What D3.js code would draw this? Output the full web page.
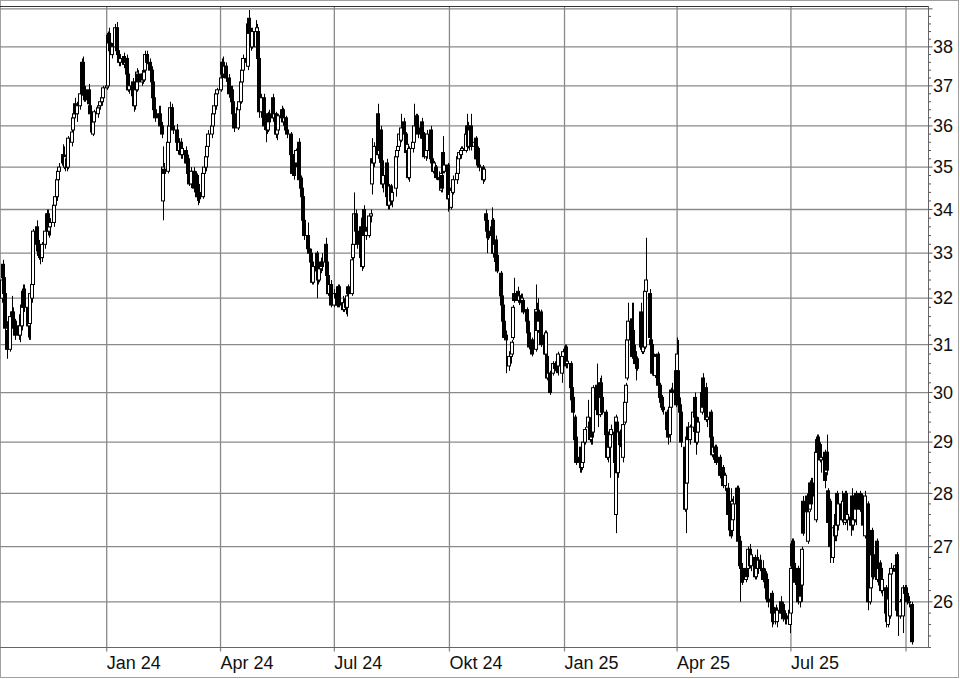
<!DOCTYPE html>
<html>
<head>
<meta charset="utf-8">
<script src="https://cdn.jsdelivr.net/npm/d3@7"></script>
<style>
  html, body { margin: 0; padding: 0; background: #fff; }
  svg { display: block; }
</style>
</head>
<body>
<svg id="chart"></svg>
<script>
// daily candles, one row per weekday from firstDay to lastDay: [open, high, low, close]
const firstDay = "2023-10-09";
const lastDay = "2025-10-06";

const ohlc = [
  // Oct 2023
  [32.0,32.45,31.9,32.4],[32.75,32.85,32.4,32.45],[32.45,32.5,32.0,32.1],[32.1,32.2,31.3,31.35],[31.3,31.5,30.7,30.9],
  [30.9,31.7,30.85,31.6],[31.6,32.05,31.4,31.7],[31.7,31.8,31.3,31.35],[31.4,31.6,31.2,31.5],[31.5,31.55,31.1,31.2],
  [31.4,31.65,31.1,31.2],[31.2,31.5,31.05,31.4],[31.4,31.9,31.3,31.85],[31.8,32.3,31.7,32.15],[32.2,32.3,31.7,31.8],
  [31.8,31.9,31.15,31.4],[31.4,31.6,31.1,31.5],[31.45,32.2,31.1,32.1],[32.0,32.4,31.9,32.3],[32.3,33.55,32.25,33.5],
  // Nov 2023
  [33.6,33.75,33.1,33.2],[33.2,33.4,32.95,33.05],[33.1,33.3,32.85,32.95],[32.95,33.1,32.75,32.9],[32.9,33.25,32.8,33.2],
  [33.2,33.6,33.1,33.5],[33.6,34.0,33.5,33.9],[33.9,34.0,33.4,33.5],[33.5,33.7,33.35,33.6],[33.6,33.8,33.4,33.7],
  [33.7,34.2,33.6,34.1],[34.1,34.4,34.0,34.3],[34.3,34.75,34.2,34.7],[34.7,35.0,34.6,34.9],[34.9,35.1,34.7,35.0],
  [35.3,35.55,35.0,35.1],[35.2,35.5,34.95,35.05],[35.0,35.3,34.9,35.25],[35.2,35.3,34.9,35.0],[35.0,35.75,34.95,35.7],
  // Dec 2023
  [35.6,35.9,35.5,35.85],[35.9,36.3,35.8,36.2],[36.2,36.4,36.0,36.3],[36.55,36.7,36.2,36.3],[36.3,36.6,36.1,36.5],
  [36.5,36.9,36.4,36.8],[36.8,37.7,36.75,37.6],[37.6,37.75,36.7,36.8],[36.8,37.1,36.6,36.9],[36.9,37.0,36.6,36.65],
  [36.9,37.05,36.5,36.55],[36.5,36.6,36.2,36.3],[36.3,36.35,35.8,35.85],[35.8,36.2,35.75,36.1],[36.1,36.4,36.0,36.35],
  [36.3,36.5,36.2,36.45],[36.45,36.6,36.3,36.5],[36.5,36.7,36.4,36.6],[36.6,36.8,36.5,36.7],[36.7,37.0,36.6,36.95],
  // Jan 2024
  [36.95,37.1,36.9,37.0],[37.0,38.4,36.95,38.3],[38.35,38.5,38.0,38.1],[38.1,38.3,37.8,37.9],[37.8,38.1,37.7,38.0],
  [38.0,38.6,37.95,38.5],[38.5,38.65,37.85,37.9],[37.9,38.1,37.7,37.8],[37.8,37.9,37.5,37.6],[37.6,37.8,37.5,37.7],
  [37.75,37.85,37.45,37.55],[37.55,37.7,37.4,37.6],[37.7,37.8,37.2,37.3],[37.3,37.4,36.85,36.9],[36.9,37.1,36.8,37.0],
  [37.1,37.2,36.7,36.75],[36.75,36.8,36.35,36.5],[36.5,37.0,36.4,36.9],[36.9,37.45,36.85,37.35],[37.3,37.4,37.0,37.1],
  [37.1,37.4,37.0,37.3],[37.3,37.4,37.05,37.15],[37.15,37.4,37.1,37.35],[37.4,37.9,37.3,37.8],[37.8,37.9,37.55,37.6],
  // Feb 2024
  [37.6,37.7,37.3,37.4],[37.4,37.5,37.0,37.1],[37.1,37.2,36.6,36.7],[36.7,36.8,36.35,36.4],[36.4,36.5,36.1,36.2],
  [36.2,36.5,36.0,36.3],[36.3,36.5,35.9,36.0],[36.0,36.1,35.7,35.8],[34.2,35.5,33.75,35.0],[34.95,35.1,34.75,34.85],
  [34.9,35.65,34.85,35.6],[35.6,36.1,35.5,36.0],[36.0,36.6,35.9,36.45],[36.45,36.55,35.9,36.0],[36.0,36.3,35.8,35.9],
  [35.9,36.05,35.5,35.6],[35.6,35.8,35.3,35.4],[35.4,35.7,35.3,35.6],[35.6,35.7,35.2,35.3],[35.3,35.5,35.2,35.45],
  // Mar 2024
  [35.4,35.5,35.0,35.1],[35.1,35.3,34.9,35.2],[35.2,35.3,34.8,34.85],[34.9,35.0,34.55,34.6],[34.6,35.0,34.5,34.9],
  [34.9,35.0,34.4,34.5],[34.5,34.9,34.4,34.8],[34.8,34.85,34.2,34.3],[34.3,34.5,34.1,34.4],[34.4,34.6,34.15,34.25],
  [34.3,34.9,34.25,34.85],[34.85,35.1,34.7,35.0],[35.0,35.3,34.9,35.25],[35.25,35.6,35.2,35.5],[35.5,35.9,35.4,35.8],
  [35.8,36.1,35.7,36.0],[36.0,36.35,35.95,36.3],[36.3,36.6,36.2,36.5],[36.5,36.9,36.4,36.8],[36.8,36.95,36.7,36.9],
  // Apr 2024
  [36.9,37.3,36.85,37.2],[37.3,37.7,37.2,37.6],[37.6,37.75,37.2,37.3],[37.3,37.6,37.2,37.5],[37.5,37.6,37.1,37.2],
  [37.2,37.3,36.7,36.8],[36.8,37.0,36.6,36.9],[36.9,37.0,36.55,36.6],[36.6,36.7,36.2,36.3],[36.3,36.4,35.85,35.95],
  [35.95,36.5,35.9,36.45],[36.4,36.7,36.3,36.6],[36.6,37.2,36.55,37.1],[37.1,37.5,37.0,37.4],[37.4,37.8,37.3,37.7],
  [37.7,38.2,37.5,37.6],[37.5,38.65,37.4,38.6],[38.75,38.97,38.3,38.35],[38.3,38.5,37.9,38.0],[38.0,38.5,37.95,38.4],
  [38.0,38.7,37.9,38.4],[38.4,38.6,38.2,38.5],[38.4,38.5,37.65,37.7],[37.7,37.75,36.2,36.35],[36.35,36.8,36.2,36.7],
  // May 2024
  [36.7,36.8,35.9,36.0],[36.0,36.2,35.6,36.1],[36.1,36.3,35.8,35.9],[35.9,36.35,35.85,36.3],[36.3,36.4,36.0,36.1],
  [36.7,36.8,36.1,36.2],[36.2,36.4,36.0,36.3],[36.3,36.35,35.7,35.8],[35.8,36.1,35.65,35.95],[35.9,36.3,35.8,36.25],
  [36.2,36.5,36.1,36.4],[36.4,36.45,36.0,36.1],[36.1,36.3,35.9,36.2],[36.2,36.25,35.8,35.9],[35.9,36.0,35.7,35.8],
  [35.8,35.85,35.2,35.3],[35.3,35.4,34.8,34.85],[34.9,35.3,34.8,35.2],[35.2,35.35,34.7,34.8],[35.1,35.45,35.0,35.4],
  // Jun 2024
  [35.6,35.7,34.65,34.7],[34.7,34.8,34.4,34.5],[34.5,34.75,34.2,34.3],[34.3,34.4,33.7,33.75],[33.75,33.85,33.3,33.4],
  [33.4,33.7,33.0,33.1],[33.1,33.3,32.9,33.0],[33.0,33.1,32.7,32.8],[32.8,32.85,32.3,32.35],[32.35,32.8,32.3,32.7],
  [33.0,33.05,32.0,32.6],[32.6,32.7,32.3,32.4],[32.4,32.7,32.35,32.65],[32.65,32.9,32.55,32.8],[32.8,33.0,32.6,32.7],
  [33.2,33.35,32.75,32.8],[32.8,32.9,32.4,32.5],[32.5,32.55,32.05,32.1],[32.1,32.4,32.0,32.3],[32.3,32.4,31.8,31.85],
  // Jul 2024
  [31.85,32.2,31.8,32.1],[32.1,32.15,31.9,32.0],[32.0,32.1,31.8,31.85],[31.85,32.3,31.8,32.25],[32.25,32.3,31.8,31.85],
  [31.9,32.05,31.7,31.75],[31.75,32.0,31.7,31.9],[31.9,32.0,31.65,31.8],[31.8,32.1,31.6,32.05],[32.25,32.3,32.0,32.1],
  [32.1,32.9,32.05,32.85],[32.9,33.3,32.8,33.2],[33.2,34.4,33.1,33.9],[33.9,34.0,33.4,33.5],[33.5,33.7,33.1,33.2],
  [33.6,33.7,32.85,32.9],[33.1,33.2,32.6,32.7],[32.7,33.9,32.65,33.8],[34.0,34.1,33.3,33.4],[33.4,33.6,33.3,33.5],
  [33.4,33.9,33.35,33.85],[33.85,34.0,33.7,33.9],[34.6,35.7,34.35,35.2],[35.2,35.4,34.9,35.1],[35.1,35.6,35.0,35.5],
  // Aug 2024
  [36.3,36.55,35.2,35.3],[35.3,35.5,35.1,35.4],[35.9,36.0,35.1,35.15],[35.15,35.3,34.5,34.6],[34.6,34.9,34.4,34.8],
  [35.1,35.2,34.2,34.3],[34.3,34.4,34.0,34.1],[34.1,34.6,34.0,34.55],[34.55,34.6,34.1,34.2],[34.2,34.5,34.05,34.4],
  [34.5,35.3,34.3,35.25],[35.25,35.5,35.15,35.4],[35.4,35.6,35.3,35.5],[35.5,35.9,35.4,35.8],[35.65,36.3,35.6,35.95],
  [36.1,36.2,35.75,35.8],[35.8,35.85,35.3,35.35],[35.4,35.6,35.3,35.55],[35.3,35.4,34.7,34.75],[34.75,35.5,34.65,35.45],
  // Sep 2024
  [35.45,35.7,35.35,35.6],[35.6,36.55,35.55,36.0],[36.0,36.3,35.9,36.2],[36.25,36.3,35.9,35.95],[35.95,36.1,35.7,35.8],
  [36.1,36.2,35.6,35.7],[35.7,35.9,35.6,35.8],[35.8,35.85,35.2,35.25],[35.25,35.5,35.15,35.4],[35.4,35.9,35.2,35.8],
  [35.9,36.0,35.1,35.2],[35.2,35.35,35.0,35.1],[35.1,35.2,34.85,34.9],[34.9,35.15,34.8,35.1],[35.0,35.05,34.7,34.75],
  [34.75,34.9,34.6,34.7],[34.45,34.9,34.4,34.85],[34.8,34.9,34.4,34.5],[35.35,35.75,34.85,34.9],[34.9,35.1,34.85,35.05],
  [35.05,35.1,33.95,34.25],[34.25,34.5,34.0,34.35],[34.05,34.7,34.0,34.45],[34.45,34.6,34.3,34.5],[34.4,34.8,34.35,34.7],
  // Oct 2024
  [34.7,34.9,34.6,34.85],[34.85,35.3,34.8,35.25],[35.2,35.4,35.1,35.35],[35.3,35.5,35.2,35.4],[35.4,35.5,35.3,35.45],
  [35.4,35.85,35.35,35.8],[35.8,36.3,35.7,36.0],[36.0,36.1,35.45,35.5],[35.5,35.95,35.4,35.9],[36.0,36.3,35.4,35.5],
  [35.5,35.7,35.3,35.6],[35.7,35.75,35.15,35.2],[35.2,35.5,35.15,35.45],[35.45,35.5,35.0,35.05],[35.05,35.1,34.9,35.0],
  [35.0,35.05,34.6,34.7],[34.7,35.0,34.65,34.95],[33.9,34.0,33.7,33.75],[33.75,33.8,33.0,33.5],[33.5,33.6,33.3,33.35],
  // Nov 2024
  [33.6,34.05,33.3,33.4],[33.75,33.8,32.9,33.0],[33.0,33.3,32.8,33.2],[33.3,33.4,32.85,32.9],[32.95,33.0,32.55,32.6],
  [32.55,32.6,32.0,32.05],[32.05,32.15,31.8,31.85],[31.85,31.9,31.4,31.5],[31.5,31.6,31.1,31.15],[31.2,31.3,30.4,31.1],
  [30.55,30.8,30.45,30.75],[30.75,30.9,30.6,30.85],[30.8,31.1,30.75,31.05],[31.15,31.85,31.1,31.8],[32.1,32.45,31.9,31.95],
  [32.15,32.25,31.9,31.95],[31.95,32.1,31.85,32.05],[32.05,32.1,31.85,31.9],[31.95,32.1,31.9,32.0],[31.95,32.0,31.65,31.7],
  // Dec 2024
  [31.75,31.8,31.45,31.5],[31.5,31.55,31.2,31.25],[31.25,31.3,30.9,30.95],[30.95,31.1,30.85,31.05],[31.1,31.15,30.75,30.8],
  [30.9,32.3,30.85,31.75],[31.7,31.9,31.25,31.3],[31.3,32.0,31.25,31.6],[31.6,31.75,31.4,31.5],[31.7,31.75,30.95,31.0],
  [31.2,31.3,30.75,30.8],[30.8,31.3,30.75,31.25],[30.75,30.8,30.25,30.3],[30.3,30.5,30.2,30.4],[30.4,30.45,29.95,30.0],
  [30.4,30.65,30.35,30.6],[30.6,30.65,30.45,30.5],[30.5,30.6,30.4,30.55],[30.55,30.6,30.4,30.45],[30.55,30.85,30.35,30.8],
  [30.4,30.8,30.2,30.75],[30.75,30.9,30.6,30.85],[30.85,31.0,30.75,30.9],[30.95,31.0,30.5,30.55],[30.6,30.7,30.5,30.65],
  // Jan 2025
  [30.6,30.65,30.05,30.1],[30.1,30.15,29.8,29.85],[29.9,29.95,29.3,29.6],[29.5,29.55,29.0,29.05],[29.1,29.2,28.55,28.6],
  [28.6,28.8,28.4,28.7],[28.9,29.0,28.4,28.5],[28.5,28.65,28.45,28.6],[28.6,29.05,28.55,29.0],[29.0,29.3,28.95,29.25],
  [29.3,29.85,29.2,29.5],[29.4,29.5,29.0,29.05],[29.05,29.3,28.95,29.2],[29.2,29.25,28.95,29.1],[29.2,30.15,29.1,30.1],
  [30.15,30.6,29.6,29.65],[29.65,29.8,29.3,29.55],[29.55,30.3,29.5,30.2],[30.2,30.35,29.8,29.9],[29.9,30.0,29.55,29.6],
  // Feb 2025
  [29.6,29.65,29.1,29.15],[29.2,29.25,28.65,28.7],[28.7,29.0,28.6,28.9],[28.9,29.2,28.3,29.15],[29.15,29.35,29.05,29.25],
  [29.2,29.25,28.55,28.6],[27.6,29.55,27.25,29.5],[29.4,29.45,28.3,28.4],[28.4,29.25,28.3,29.2],[29.2,29.25,28.9,28.95],
  [28.7,29.4,28.6,29.35],[29.4,29.85,29.35,29.8],[29.8,30.2,29.75,30.15],[30.3,31.15,30.25,31.1],[31.1,31.9,30.9,31.5],
  [31.55,31.9,30.7,30.75],[31.3,31.9,30.8,30.85],[30.85,31.0,30.5,30.6],[30.6,30.8,30.25,30.7],[30.7,30.75,30.45,30.5],
  // Mar 2025
  [31.7,31.9,30.9,30.95],[30.95,31.1,30.8,30.9],[30.85,31.0,30.8,30.95],[30.95,32.2,30.9,32.15],[32.15,33.35,32.1,32.4],
  [32.1,32.2,31.1,31.15],[31.1,31.2,30.9,31.0],[31.0,31.1,30.35,30.4],[30.8,30.95,30.5,30.55],[30.35,30.8,30.3,30.75],
  [30.8,30.85,30.1,30.15],[30.15,30.2,29.85,29.9],[29.9,30.0,29.75,29.8],[29.9,29.95,29.6,29.7],[29.7,29.75,29.55,29.65],
  [29.6,29.65,29.2,29.25],[29.4,29.45,28.95,29.1],[29.15,29.75,29.0,29.7],[29.7,30.1,29.65,30.05],[30.05,30.2,29.9,30.0],
  [30.45,30.8,29.7,29.75],[30.45,31.15,30.4,30.8],[30.45,31.1,29.7,29.75],[29.75,29.9,29.5,29.6],[29.6,29.65,28.9,29.0],
  // Apr 2025
  [28.9,29.0,27.65,27.7],[27.7,28.3,27.25,28.2],[28.2,29.15,28.1,29.1],[29.3,29.4,29.0,29.05],[29.05,29.35,28.95,29.3],
  [29.3,29.7,29.2,29.6],[29.9,30.0,29.45,29.5],[29.5,29.6,28.75,29.0],[29.0,29.3,28.95,29.2],[29.2,29.5,29.1,29.4],
  [29.6,30.15,29.55,30.0],[30.3,30.4,29.65,29.7],[29.7,30.0,29.6,29.9],[30.1,30.2,29.4,29.45],[29.45,29.6,29.3,29.5],
  [29.6,29.65,29.05,29.1],[29.1,29.15,28.7,28.75],[28.75,28.95,28.65,28.9],[28.9,28.95,28.75,28.8],[28.9,28.95,28.55,28.6],
  // May 2025
  [28.7,28.75,28.3,28.35],[28.35,28.5,28.2,28.4],[28.4,28.5,28.25,28.3],[28.5,28.55,28.1,28.15],[28.15,28.4,28.05,28.35],
  [28.1,28.2,27.3,27.6],[27.6,27.7,27.2,27.5],[27.8,28.1,27.15,27.2],[27.3,27.9,27.25,27.85],[27.5,27.95,27.4,27.8],
  [27.8,28.15,27.7,28.1],[28.1,28.15,27.0,27.1],[27.1,27.2,26.0,26.65],[26.65,26.8,26.4,26.6],[26.6,26.7,26.3,26.35],
  [26.4,26.65,26.35,26.6],[26.6,26.7,26.4,26.45],[26.6,27.0,26.55,26.95],[26.95,27.05,26.6,26.65],[26.65,26.9,26.55,26.85],
  // Jun 2025
  [26.8,26.85,26.4,26.45],[26.45,26.7,26.4,26.65],[26.8,26.95,26.55,26.6],[26.6,26.8,26.5,26.75],[26.75,26.85,26.55,26.6],
  [26.6,26.75,26.35,26.4],[26.4,26.6,26.35,26.5],[26.5,26.55,26.2,26.25],[26.4,26.45,26.0,26.05],[26.05,26.1,25.9,26.0],
  [26.15,26.2,25.55,25.8],[25.9,26.0,25.6,25.65],[25.65,25.9,25.6,25.85],[25.85,25.95,25.7,25.8],[25.65,25.9,25.55,25.85],
  [26.0,26.1,25.75,25.8],[25.8,26.0,25.75,25.95],[25.95,26.0,25.65,25.7],[25.7,25.85,25.6,25.75],[25.75,25.8,25.6,25.7],
  [25.6,25.9,25.45,25.85],[25.8,26.65,25.75,26.6],[26.65,27.15,26.55,27.05],[27.1,27.15,26.55,26.6],[26.6,26.7,26.3,26.35],
  // Jul 2025
  [26.6,26.65,25.95,26.0],[26.0,26.6,25.9,26.55],[26.55,26.6,26.0,26.1],[26.3,27.0,26.0,26.95],[27.85,27.95,27.2,27.25],
  [27.95,28.0,27.6,27.65],[27.1,27.7,27.05,27.65],[27.7,28.25,27.65,28.2],[28.2,28.3,27.75,27.8],[28.2,28.3,27.9,27.95],
  [27.5,28.85,27.45,28.8],[28.8,29.15,28.7,29.05],[29.1,29.15,28.75,28.8],[28.95,29.0,28.6,28.65],[28.65,28.75,28.4,28.7],
  [28.8,28.85,28.1,28.25],[28.4,28.7,28.3,28.65],[28.8,29.15,28.35,28.45],[28.05,28.1,27.4,27.45],[27.85,27.9,26.7,27.0],
  // Aug 2025
  [26.8,27.4,26.7,27.35],[27.35,27.45,27.1,27.2],[27.2,27.7,27.1,27.6],[28.0,28.05,27.35,27.4],[27.4,27.85,27.3,27.8],
  [27.8,28.05,27.45,27.5],[27.5,27.9,27.4,27.85],[27.45,28.05,27.4,28.0],[28.0,28.05,27.45,27.5],[27.5,27.7,27.3,27.6],
  [27.55,27.7,27.2,27.4],[27.95,28.1,27.3,27.4],[27.4,27.6,27.3,27.5],[27.5,28.0,27.45,27.95],[28.0,28.05,27.4,27.7],
  [28.0,28.05,27.65,27.7],[27.7,28.0,27.6,27.9],[27.95,28.0,27.65,27.7],[27.75,27.8,27.35,27.4],[27.2,28.05,27.15,27.95],
  // Sep 2025
  [27.8,27.85,25.85,26.0],[26.0,26.4,25.95,26.25],[26.25,26.9,26.2,26.85],[27.3,27.35,26.8,26.85],[26.85,27.1,26.4,26.45],
  [27.1,27.15,26.35,26.4],[26.4,26.7,26.3,26.6],[26.7,26.75,26.25,26.3],[26.6,26.65,26.15,26.2],[26.2,26.5,26.1,26.4],
  [26.25,26.3,25.55,25.8],[25.8,26.05,25.6,25.65],[25.6,26.1,25.55,26.05],[25.75,26.55,25.7,26.5],[26.5,26.7,26.4,26.6],
  [26.55,26.75,26.45,26.65],[26.6,26.8,26.5,26.55],[26.85,26.9,25.8,25.85],[26.0,26.1,25.4,25.75],[25.75,26.05,25.7,26.0],
  [25.75,26.3,25.45,26.25],[26.25,26.3,26.1,26.15],[26.25,26.3,26.1,26.15],[26.15,26.2,25.95,26.0],[26.0,26.1,25.9,26.0],
  // Oct 2025
  [25.95,26.0,25.25,25.3]
];

const priceGrid = [26, 27, 28, 29, 30, 31, 32, 33, 34, 35, 36, 37, 38, 39];
const priceLabels = ["26", "27", "28", "29", "30", "31", "32", "33", "34", "35", "36", "37", "38"];
const quarterTicks = ["2024-01-01", "2024-04-01", "2024-07-01", "2024-10-01", "2025-01-01", "2025-04-01", "2025-07-01", "2025-10-01"];
const quarterLabels = ["Jan 24", "Apr 24", "Jul 24", "Okt 24", "Jan 25", "Apr 25", "Jul 25", ""];

const width = 960;
const height = 679;
const plot = { left: 0, top: 7, right: 928, bottom: 647.5 };

const svg = d3.select("#chart")
  .attr("width", width)
  .attr("height", height)
  .style("font-family", "'Liberation Sans', Arial, sans-serif");

const parse = d3.utcParse("%Y-%m-%d");

const days = d3.utcDay.range(parse(firstDay), d3.utcDay.offset(parse(lastDay), 1))
  .filter((d) => d.getUTCDay() !== 0 && d.getUTCDay() !== 6);

const candles = ohlc.slice(0, days.length).map((v, i) => ({
  date: days[i], open: v[0], high: v[1], low: v[2], close: v[3]
}));

const x = d3.scaleUtc()
  .domain([parse("2024-01-01"), parse("2025-10-01")])
  .range([106.7, 906]);

const y = d3.scaleLog()
  .domain([25.2, 39.05])
  .range([plot.bottom, plot.top]);

// outer frame
svg.append("rect")
  .attr("x", 0.5).attr("y", 0.5)
  .attr("width", width - 2).attr("height", height - 2)
  .attr("fill", "#fff")
  .attr("stroke", "#a0a0a0");

svg.append("defs").append("clipPath")
  .attr("id", "plot-clip")
  .append("rect")
  .attr("x", plot.left).attr("y", plot.top)
  .attr("width", plot.right - plot.left).attr("height", plot.bottom - plot.top);

// horizontal grid
svg.append("g")
  .selectAll("line")
  .data(priceGrid)
  .join("line")
  .attr("x1", plot.left).attr("x2", plot.right)
  .attr("y1", (d) => y(d)).attr("y2", (d) => y(d))
  .attr("stroke", "#8a8a8a")
  .attr("stroke-width", 1.3);

// vertical grid, running a little below the frame as ticks
svg.append("g")
  .selectAll("line")
  .data(quarterTicks)
  .join("line")
  .attr("x1", (d) => x(parse(d))).attr("x2", (d) => x(parse(d)))
  .attr("y1", plot.top).attr("y2", plot.bottom + 4)
  .attr("stroke", "#8a8a8a")
  .attr("stroke-width", 1.3);

// candles
const candleG = svg.append("g").attr("clip-path", "url(#plot-clip)");

const candle = candleG.selectAll("g.candle")
  .data(candles)
  .join("g")
  .attr("class", "candle")
  .attr("transform", (d) => `translate(${Math.round(x(d.date))},0)`);

candle.append("line")
  .attr("x1", 0.5).attr("x2", 0.5)
  .attr("y1", (d) => y(Math.max(d.high, d.open, d.close)))
  .attr("y2", (d) => y(Math.min(d.low, d.open, d.close)))
  .attr("stroke", "#000")
  .attr("stroke-width", 1);

candle.append("rect")
  .attr("x", -1.5)
  .attr("width", 3)
  .attr("y", (d) => y(Math.max(d.open, d.close)))
  .attr("height", (d) => Math.max(1, y(Math.min(d.open, d.close)) - y(Math.max(d.open, d.close))))
  .attr("fill", (d) => (d.close >= d.open ? "#fff" : "#000"))
  .attr("stroke", "#000")
  .attr("stroke-width", 1);

// frame lines
svg.append("line")
  .attr("x1", plot.left).attr("x2", plot.right)
  .attr("y1", plot.top - 0.5).attr("y2", plot.top - 0.5)
  .attr("stroke", "#333");

svg.append("line")
  .attr("x1", plot.left).attr("x2", plot.right + 0.5)
  .attr("y1", plot.bottom).attr("y2", plot.bottom)
  .attr("stroke", "#666");

svg.append("line")
  .attr("x1", plot.right + 0.5).attr("x2", plot.right + 0.5)
  .attr("y1", plot.top - 1).attr("y2", plot.bottom)
  .attr("stroke", "#666");

// right price axis with minor ticks every 0.2
const minorTicks = d3.range(126, 196).map((k) => k / 5);
svg.append("g")
  .selectAll("line")
  .data(minorTicks)
  .join("line")
  .attr("x1", plot.right + 0.5)
  .attr("x2", (d) => plot.right + 0.5 + (Math.abs(d - Math.round(d)) < 1e-6 ? 4 : 2.5))
  .attr("y1", (d) => y(d)).attr("y2", (d) => y(d))
  .attr("stroke", "#555");

svg.append("g")
  .selectAll("text")
  .data(priceLabels)
  .join("text")
  .attr("x", 933)
  .attr("y", (d) => y(+d))
  .attr("dy", "0.35em")
  .attr("font-size", 18)
  .attr("fill", "#111")
  .text((d) => d);

// bottom date labels
svg.append("g")
  .selectAll("text")
  .data(quarterTicks)
  .join("text")
  .attr("x", (d) => x(parse(d)))
  .attr("y", 669)
  .attr("font-size", 18)
  .attr("fill", "#111")
  .text((d, i) => quarterLabels[i]);
</script>
</body>
</html>
